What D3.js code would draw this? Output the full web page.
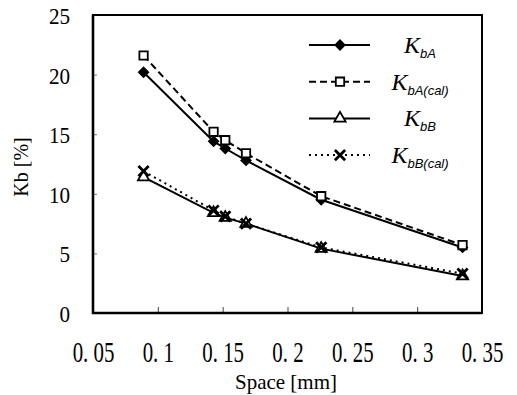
<!DOCTYPE html>
<html>
<head>
<meta charset="utf-8">
<script src="https://cdn.jsdelivr.net/npm/d3@7"></script>
<style>
  body { margin: 0; background: #fff; }
  text { font-family: "Liberation Serif", "Times New Roman", serif; fill: #000; }
</style>
</head>
<body>
<div id="container"></div>
<script>
// data
const space = [0.089, 0.143, 0.152, 0.168, 0.226, 0.335];
const kbA = [20.2, 14.4, 13.8, 12.8, 9.5, 5.5];
const kbAcal = [21.6, 15.2, 14.5, 13.4, 9.8, 5.7];
const kbB = [11.4, 8.4, 8.0, 7.5, 5.4, 3.1];
const kbBcal = [11.9, 8.6, 8.1, 7.5, 5.5, 3.3];
const xTicks = [0.05, 0.1, 0.15, 0.2, 0.25, 0.3, 0.35];
const yTicks = [0, 5, 10, 15, 20, 25];

const w = 517, h = 395;
const margin = {top: 15, left: 93, bottom: 82, right: 35};
const gw = w - margin.left - margin.right;
const gh = h - margin.top - margin.bottom;

const svg = d3.select("#container").append("svg").attr("width", w).attr("height", h);
const graph = svg.append("g").attr("transform", `translate(${margin.left},${margin.top})`);

const x = d3.scaleLinear().domain([0.05, 0.35]).range([0, gw]);
const y = d3.scaleLinear().domain([0, 25]).range([gh, 0]);

// axes, ticks point inward
const fmt = d => String(d).replace(".", ". ");
const xAxis = graph.append("g").attr("transform", `translate(0,${gh})`)
  .call(d3.axisBottom(x).tickValues(xTicks).tickSizeInner(-6).tickSizeOuter(0).tickFormat(fmt));
xAxis.select(".domain").remove();
xAxis.selectAll("line").attr("stroke", "#444");
xAxis.selectAll("text")
  .attr("y", 49).attr("dy", 0)
  .attr("transform", "scale(0.72,1)")
  .style("font-size", "29px");

const yAxis = graph.append("g")
  .call(d3.axisLeft(y).tickValues(yTicks).tickSizeInner(-4).tickSizeOuter(0));
yAxis.select(".domain").remove();
yAxis.selectAll("line").attr("stroke", "#777");
yAxis.selectAll("text")
  .attr("x", -23 / 0.88).attr("dy", "0.35em")
  .attr("transform", "scale(0.88,1)")
  .style("font-size", "24px");

// frame
graph.append("rect").attr("x", 0).attr("y", 0).attr("width", gw).attr("height", gh)
  .attr("fill", "none").attr("stroke", "#000").attr("stroke-width", 2);
graph.append("path").attr("d", `M0,0V${gh}H${gw}`).attr("fill", "none")
  .attr("stroke", "#000").attr("stroke-width", 2.6);

// axis titles
svg.append("text")
  .attr("transform", `translate(28,167) rotate(-90)`)
  .attr("text-anchor", "middle").style("font-size", "20px")
  .text("Kb [%]");
svg.append("text")
  .attr("x", 286).attr("y", 389).attr("text-anchor", "middle")
  .style("font-size", "21px")
  .text("Space [mm]");

const series = [
  {name: "bA", vals: kbA, dash: null, sym: d3.symbolDiamond2, size: 55, fill: "#000"},
  {name: "bA(cal)", vals: kbAcal, dash: "7,4", sym: d3.symbolSquare, size: 70, fill: "#fff"},
  {name: "bB", vals: kbB, dash: null, sym: d3.symbolTriangle, size: 55, fill: "#fff"},
  {name: "bB(cal)", vals: kbBcal, dash: "2,4", sym: d3.symbolTimes, size: 70, fill: "none"}
];

const line = d3.line().x(d => x(d[0])).y(d => y(d[1]));

series.forEach(s => {
  const pts = space.map((v, i) => [v, s.vals[i]]);
  graph.append("path").datum(pts).attr("d", line)
    .attr("fill", "none").attr("stroke", "#000").attr("stroke-width", 2)
    .attr("stroke-dasharray", s.dash);
  graph.selectAll(null).data(pts).enter().append("path")
    .attr("transform", d => `translate(${x(d[0])},${y(d[1])})`)
    .attr("d", d3.symbol().type(s.sym).size(s.size))
    .attr("fill", s.fill).attr("stroke", "#000")
    .attr("stroke-width", s.sym === d3.symbolTimes ? 2.8 : 1.8);
});

// legend
const legend = svg.append("g");
series.forEach((s, i) => {
  const ly = 45 + i * 36.7;
  legend.append("line").attr("x1", 309).attr("x2", 370).attr("y1", ly).attr("y2", ly)
    .attr("stroke", "#000").attr("stroke-width", 2).attr("stroke-dasharray", s.dash);
  legend.append("path").attr("transform", `translate(340,${ly})`)
    .attr("d", d3.symbol().type(s.sym).size(s.size))
    .attr("fill", s.fill).attr("stroke", "#000")
    .attr("stroke-width", s.sym === d3.symbolTimes ? 2.8 : 1.8);
  const t = legend.append("text").attr("x", 420).attr("y", ly + 8)
    .attr("text-anchor", "middle");
  t.append("tspan").style("font-size", "24px").style("font-style", "italic").text("K");
  t.append("tspan").attr("dy", 5).style("font-size", "13px").style("font-style", "italic")
    .style("font-family", "Liberation Sans, Arial, sans-serif").text(s.name);
});
</script>
</body>
</html>
